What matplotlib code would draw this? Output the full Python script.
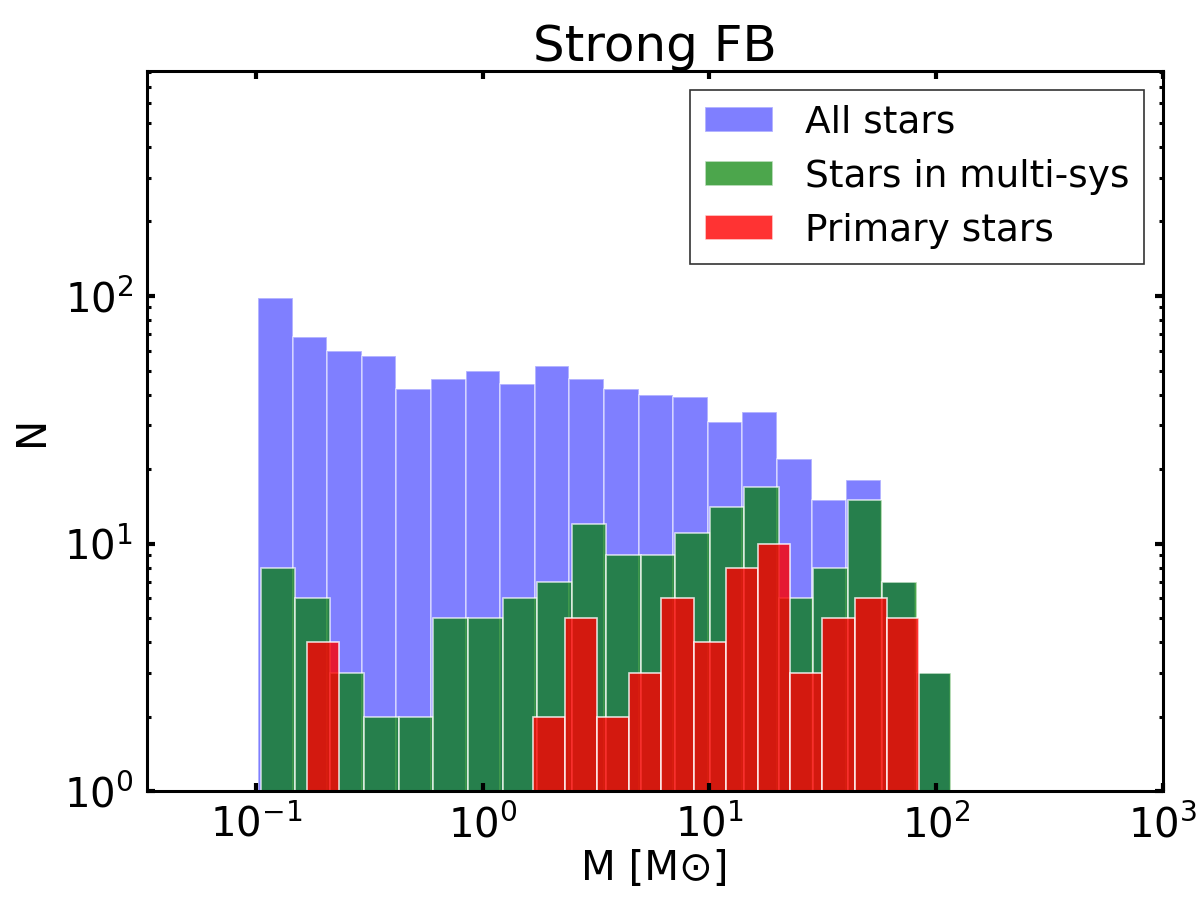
import numpy as np
import matplotlib
matplotlib.use('Agg')
import matplotlib.pyplot as plt
from matplotlib.ticker import NullLocator

# histogram counts (log-spaced mass bins)
all_counts = [98, 68, 60, 57, 42, 46, 50, 44, 52, 46, 42, 40, 39, 31, 34, 22, 15, 18, 7, 3]
multi_counts = [8, 6, 3, 2, 2, 5, 5, 6, 7, 12, 9, 9, 11, 14, 17, 6, 8, 15, 7, 3]
primary_counts = [4, 0, 0, 0, 0, 0, 0, 2, 5, 2, 3, 6, 4, 8, 10, 3, 5, 6, 5]

# mass range covered by each histogram [Msun]
all_range = [0.102, 115.0]
multi_range = [0.105, 116.5]
primary_range = [0.168, 84.0]

labels = ['All stars', 'Stars in multi-sys', 'Primary stars']


def log_edges(rng, n):
    return np.logspace(np.log10(rng[0]), np.log10(rng[1]), n + 1)


fig = plt.figure(figsize=(6, 4.5), dpi=200)
ax = fig.add_axes([0.1225, 0.121, 0.8465, 0.8])

for counts, rng, col, a, lab in [
        (all_counts, all_range, 'blue', 0.5, labels[0]),
        (multi_counts, multi_range, 'green', 0.7, labels[1]),
        (primary_counts, primary_range, 'red', 0.8, labels[2])]:
    edges = log_edges(rng, len(counts))
    centers = np.sqrt(edges[:-1] * edges[1:])
    ax.hist(centers, bins=edges, weights=counts, color=col, alpha=a,
            edgecolor='white', linewidth=0.6, label=lab)

ax.set_xscale('log')
ax.set_yscale('log')
ax.set_xlim(0.033, 1000)
ax.set_ylim(1, 810)
ax.xaxis.set_minor_locator(NullLocator())

for s in ax.spines.values():
    s.set_linewidth(1.1)
ax.tick_params(which='both', direction='in', top=True, right=True, labelsize=14.5)
ax.tick_params(which='major', length=3, width=1.5, pad=5)
ax.tick_params(which='minor', length=1.6, width=1.1)

ax.set_xlabel('M [M⊙]', fontsize=14.5, labelpad=1)
ax.set_ylabel('N', fontsize=14.5)
ax.set_title('Strong FB', fontsize=18, pad=3)

leg = ax.legend(loc='upper right', fontsize=13.5, fancybox=False, edgecolor='black',
                handlelength=1.8, handleheight=0.65, handletextpad=0.85,
                labelspacing=0.48, borderaxespad=0.5)
leg.get_frame().set_linewidth(0.6)

fig.savefig('out.png', dpi=200)
